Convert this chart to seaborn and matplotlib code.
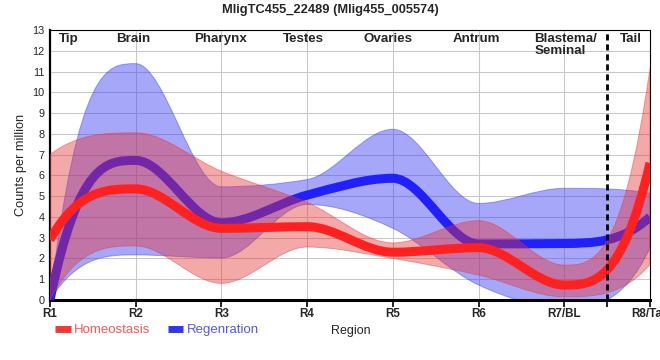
"""Expression profile of MligTC455_22489 along the body regions."""

import matplotlib

matplotlib.use("Agg")
import matplotlib.pyplot as plt
import numpy as np
import seaborn as sns
from matplotlib.lines import Line2D
from matplotlib.patches import PathPatch
from matplotlib.path import Path

REGIONS = ["R1", "R2", "R3", "R4", "R5", "R6", "R7/BL", "R8/Tail"]
TISSUES = ["Tip", "Brain", "Pharynx", "Testes", "Ovaries", "Antrum", "Blastema/\nSeminal", "Tail"]

homeo_mean = [2.9, 5.35, 3.45, 3.53, 2.3, 2.52, 0.72, 6.6]
homeo_upper = [7.0, 8.05, 6.2, 4.7, 2.75, 3.82, 1.68, 11.15]
homeo_lower = [0.0, 2.6, 0.8, 2.55, 2.0, 1.2, 0.15, 1.7]

regen_mean = [0.0, 6.72, 3.72, 5.05, 5.86, 2.7, 2.72, 4.0]
regen_upper = [0.0, 11.38, 5.45, 5.8, 8.22, 4.65, 5.38, 5.14]
regen_lower = [0.0, 2.17, 2.02, 4.6, 3.45, 0.72, -0.35, 2.5]

# where the tissue names sit along the x axis (layout only)
tissue_pos = [0.22, 0.97, 1.99, 2.96, 3.94, 4.98, 5.65, 6.78]

RED = "#ff2020"
BLUE = "#2020ff"


def tangents(y):
    """Monotone slopes, flat at local extrema."""
    y = np.asarray(y, dtype=float)
    s = np.diff(y)
    m = np.zeros_like(y)
    for i in range(1, len(y) - 1):
        if s[i - 1] * s[i] > 0:
            p = 0.5 * (s[i - 1] + s[i])
            m[i] = np.sign(s[i]) * 2 * min(abs(s[i - 1]), abs(s[i]), 0.5 * abs(p))
    m[0] = 3 * s[0] - 2 * m[1]
    m[-1] = 3 * s[-1] - 2 * m[-2]
    return m


def curve_verts(y):
    m = tangents(y)
    verts = [(0, y[0])]
    for i in range(len(y) - 1):
        verts += [
            (i + 1 / 3, y[i] + m[i] / 3),
            (i + 2 / 3, y[i + 1] - m[i + 1] / 3),
            (i + 1, y[i + 1]),
        ]
    return verts


def draw_line(ax, y, color, zorder):
    verts = curve_verts(y)
    codes = [Path.MOVETO] + [Path.CURVE4] * (len(verts) - 1)
    ax.add_patch(PathPatch(Path(verts, codes), fill=False, edgecolor=color,
                           lw=6.5, capstyle="butt", zorder=zorder))


def draw_band(ax, upper, lower, color, alpha, zorder):
    up = curve_verts(upper)
    low = curve_verts(lower)[::-1]
    verts = up + low + [up[0]]
    codes = ([Path.MOVETO] + [Path.CURVE4] * (len(up) - 1)
             + [Path.LINETO] + [Path.CURVE4] * (len(low) - 1) + [Path.CLOSEPOLY])
    ax.add_patch(PathPatch(Path(verts, codes), facecolor=color, alpha=alpha,
                           edgecolor=color, lw=0.7, zorder=zorder))


def main():
    sns.set_style("whitegrid", {"grid.color": "#c8c8c8", "axes.edgecolor": "black"})
    plt.rcParams["font.family"] = ["Liberation Sans", "DejaVu Sans"]

    fig = plt.figure(figsize=(6.6, 3.6), dpi=100)
    ax = fig.add_axes([50 / 660, 60 / 360, 600 / 660, 270 / 360])

    draw_band(ax, regen_upper, regen_lower, "#3c3cf5", 0.45, 2)
    draw_line(ax, regen_mean, BLUE, 3)
    draw_band(ax, homeo_upper, homeo_lower, "#e63232", 0.42, 4)
    draw_line(ax, homeo_mean, RED, 5)

    ax.axvline(6.5, color="black", lw=2, ls=(0, (2.2, 1.4)), zorder=6)

    ax.set_xlim(0, len(REGIONS) - 1)
    ax.set_ylim(0, 13)
    ax.set_xticks(range(len(REGIONS)))
    ax.set_xticklabels(REGIONS, fontsize=8.4, fontweight="bold")
    ax.set_xticks([6.5], minor=True)
    ax.set_yticks(range(14))
    ax.tick_params(axis="y", labelsize=7.8, length=0, pad=4)
    ax.tick_params(axis="x", which="both", length=5, width=1.2, color="black",
                   bottom=True, pad=1)
    ax.grid(True, lw=0.75, color="#c8c8c8")
    ax.set_axisbelow(True)

    ax.spines["left"].set_linewidth(1.6)
    ax.spines["bottom"].set_linewidth(2.2)
    ax.spines["top"].set_linewidth(0.8)
    ax.spines["right"].set_linewidth(0.8)

    for name, x in zip(TISSUES, tissue_pos):
        ha = "left" if "/" in name else "center"
        ax.text(x, 12.87, name, ha=ha, va="top", fontsize=9.6, fontweight="bold",
                linespacing=1.05, zorder=7)

    ax.set_ylabel("Counts per million", fontsize=9.2, labelpad=4)
    fig.text(0.5, 1 - 9.5 / 360, "MligTC455_22489 (Mlig455_005574)",
             ha="center", va="center", fontsize=9.3, fontweight="bold")
    fig.text(351 / 660, 1 - 331 / 360, "Region", ha="center", va="center", fontsize=9)

    handles = [
        Line2D([], [], color="#ff3333", lw=5, solid_capstyle="butt"),
        Line2D([], [], color="#3333ff", lw=5, solid_capstyle="butt"),
    ]
    fig.legend(handles, ["Homeostasis", "Regenration"], loc="center left",
               bbox_to_anchor=(55 / 660, 1 - 330 / 360), ncol=2, frameon=False,
               fontsize=9.5, handlelength=1.2, handletextpad=0.25,
               columnspacing=1.3, borderpad=0, borderaxespad=0,
               labelcolor=["#ff5555", "#5555ff"])

    fig.savefig("out.png", dpi=100)
    plt.close(fig)


if __name__ == "__main__":
    main()
